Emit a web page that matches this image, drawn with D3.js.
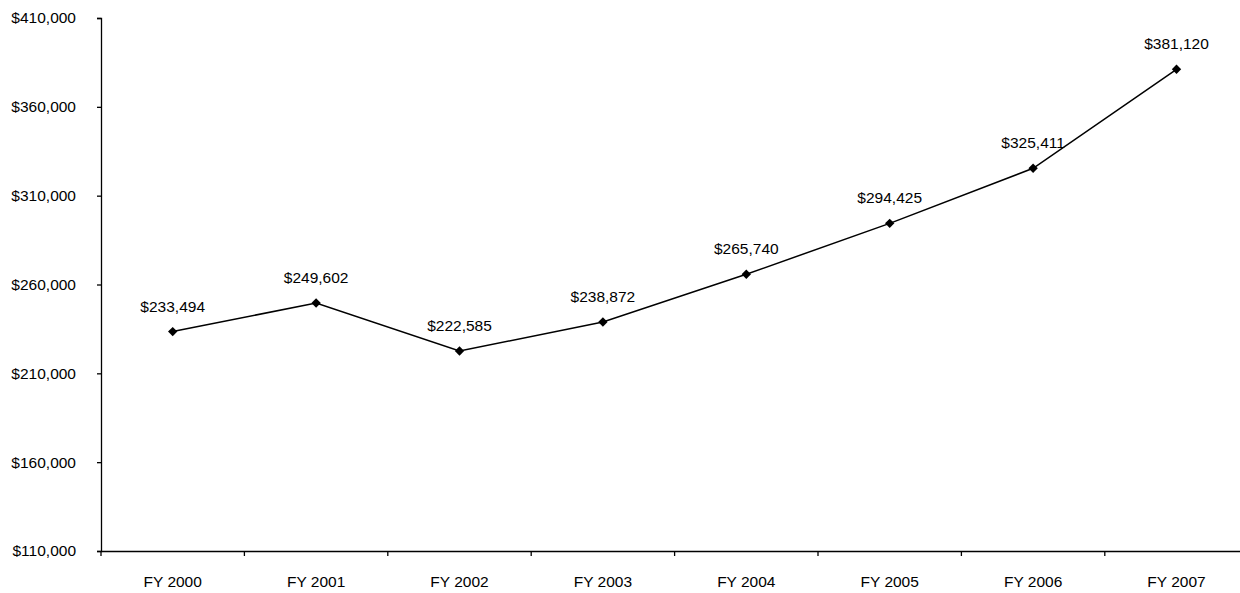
<!DOCTYPE html>
<html><head><meta charset="utf-8">
<script src="https://cdn.jsdelivr.net/npm/d3@7"></script>
<style>body{margin:0;background:#fff;}svg{display:block;font-family:"Liberation Sans",Arial,sans-serif;}</style>
</head><body>
<script>
const categories = ["FY 2000","FY 2001","FY 2002","FY 2003","FY 2004","FY 2005","FY 2006","FY 2007"];
const values = [233494,249602,222585,238872,265740,294425,325411,381120];
const yTicks = [110000,160000,210000,260000,310000,360000,410000];

const W = 1240, H = 593;
const mLeft = 101, mTop = 18, mBottom = 551;
const band = 143.4;
const FS = 15.5;
const svg = d3.select("body").append("svg").attr("width", W).attr("height", H);

const x = d3.scaleBand().domain(categories).range([mLeft, mLeft + band * categories.length]).paddingInner(0).paddingOuter(0);
const y = d3.scaleLinear().domain([110000, 410000]).range([mBottom, mTop]);
const fmt = v => "$" + d3.format(",")(v);

// Y axis
const ya = svg.append("g").attr("transform", `translate(${mLeft},0)`)
  .call(d3.axisLeft(y).tickValues(yTicks).tickFormat(fmt).tickSize(4).tickPadding(21));
ya.select(".domain").attr("stroke", "#000").attr("stroke-width", 1.3);
ya.selectAll(".tick line").attr("stroke", "#000").attr("stroke-width", 1.3);
ya.selectAll(".tick text").attr("font-size", FS).attr("fill", "#000").attr("font-family", "Liberation Sans, Arial, sans-serif");

// X axis
const xa = svg.append("g").attr("transform", `translate(0,${mBottom})`)
  .call(d3.axisBottom(x).tickSize(0).tickPadding(0));
xa.select(".domain").attr("stroke", "#000").attr("stroke-width", 1.3);
xa.selectAll(".tick text").attr("font-size", FS).attr("fill", "#000").attr("dy", 0).attr("y", 36)
  .attr("font-family", "Liberation Sans, Arial, sans-serif");
xa.selectAll(".bnd").data(categories).enter().append("line")
  .attr("x1", d => x(d)).attr("x2", d => x(d)).attr("y1", 0).attr("y2", 5)
  .attr("stroke", "#000").attr("stroke-width", 1.3);

const cx = d => x(d) + x.bandwidth() / 2;
const line = d3.line().x((d, i) => cx(categories[i])).y(d => y(d));
svg.append("path").datum(values).attr("d", line).attr("fill", "none").attr("stroke", "#000").attr("stroke-width", 1.5);

svg.selectAll(".pt").data(values).enter().append("path")
  .attr("d", d3.symbol().type(d3.symbolDiamond2).size(56))
  .attr("transform", (d, i) => `translate(${cx(categories[i])},${y(d)})`)
  .attr("fill", "#000");

svg.selectAll(".lbl").data(values).enter().append("text")
  .attr("x", (d, i) => cx(categories[i])).attr("y", d => y(d) - 20)
  .attr("text-anchor", "middle").attr("font-size", FS).attr("fill", "#000")
  .text(fmt);
</script>
</body></html>
